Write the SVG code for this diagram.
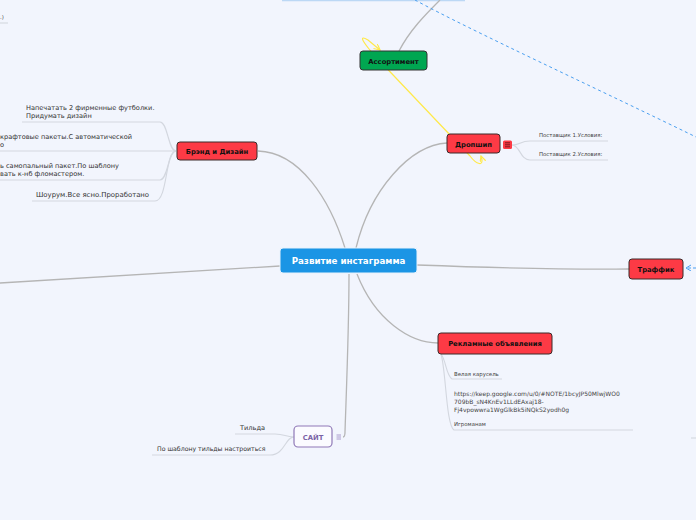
<svg xmlns="http://www.w3.org/2000/svg" width="696" height="520" viewBox="0 0 696 520">
<defs>
<marker id="ya" markerWidth="8" markerHeight="8" refX="6" refY="3" orient="auto-start-reverse" markerUnits="userSpaceOnUse"><path d="M0,0 L6,3 L0,6" fill="none" stroke="#ffe94a" stroke-width="1.2"/></marker>
<marker id="ba" markerWidth="8" markerHeight="8" refX="5" refY="3" orient="auto" markerUnits="userSpaceOnUse"><path d="M0,0 L5,3 L0,6" fill="none" stroke="#4a9ff0" stroke-width="1"/></marker>
</defs>
<style>
.main{fill:none;stroke:#b5b5b5;stroke-width:1.3}
.sub{fill:none;stroke:#d3d7df;stroke-width:1.1}
.red{fill:#fd3a45;stroke:#3a2a2a;stroke-width:1}
.lbl{font-family:"DejaVu Sans",Verdana,sans-serif;font-weight:bold;fill:#111;font-size:6.8px;text-anchor:middle}
.t{font-family:"DejaVu Sans",Verdana,sans-serif;fill:#333;font-size:6.6px}
.s{font-family:"DejaVu Sans",Verdana,sans-serif;fill:#444;font-size:5.4px}
.u{font-family:"DejaVu Sans",Verdana,sans-serif;fill:#444;font-size:6px}
</style>
<rect width="696" height="520" fill="#f2f5fd"/>
<line x1="282" y1="0" x2="465" y2="0" stroke="#bcd8f5" stroke-width="2.5"/>
<g id="connectors">
<path class="main" d="M345 248 C330 200,300 152,258 151"/>
<path class="main" d="M356 248 C370 190,410 145,447 143"/>
<path class="main" d="M417 265 C500 268,560 270,629 269"/>
<path class="main" d="M357 274 C375 320,410 343,438 343"/>
<path class="main" d="M349 274 C349 330,346 400,345 432 Q345 437 343 437"/>
<path class="main" d="M280 266 L0 283"/>
<path class="main" d="M399 51 C410 30,425 15,440 0"/>
<path class="sub" d="M176 151 C168 151,168 122,160 122 L22 122"/>
<path class="sub" d="M176 151 L0 151"/>
<path class="sub" d="M176 151 C168 151,168 180,160 180 L0 180"/>
<path class="sub" d="M176 151 C165 151,168 201,155 201 L32 201"/>
<path class="sub" d="M512 145 C520 145,520 141,530 141 L608 141"/>
<path class="sub" d="M512 145 C520 145,520 160,530 160 L608 160"/>
<path class="sub" d="M441 354 C446 360,446 375,452 379 L502 379"/>
<path class="sub" d="M441 354 C446 370,446 425,454 430 L633 430"/>
<path class="sub" d="M294 437 C285 437,285 434,275 434 L235 434"/>
<path class="sub" d="M294 437 C285 437,285 455,270 455 L152 455"/>
<path class="sub" d="M0 23 L8 23"/>
<path class="sub" d="M691 438 L696 438"/>
<path d="M415 0 C470 30,600 90,696 137" fill="none" stroke="#4a9ff0" stroke-width="1" stroke-dasharray="3,3"/>
<path d="M696 268 L686 268" fill="none" stroke="#4a9ff0" stroke-width="1" stroke-dasharray="3,2" marker-end="url(#ba)"/>
<path d="M481 156 C485 168,476 164,470 156 L376 57 C366 46,356 33,368 40 L380 50" fill="none" stroke="#ffe94a" stroke-width="1.2" marker-start="url(#ya)" marker-end="url(#ya)"/>
</g>
<g id="center">
<rect x="280" y="248" width="137" height="25" rx="3" fill="#1b95e5" stroke="#e8f2fc" stroke-width="1"/>
<text x="348.5" y="264" font-family="DejaVu Sans, Verdana, sans-serif" font-weight="bold" font-size="8.7" fill="#fff" text-anchor="middle">Развитие инстаграмма</text>
</g>
<g id="assortment">
<rect x="360" y="51" width="67" height="19" rx="3" fill="#00a651" stroke="#333" stroke-width="1"/>
<text class="lbl" x="393.5" y="63.5">Ассортимент</text>
</g>
<g id="brand">
<rect class="red" x="177" y="142" width="80" height="18" rx="3"/>
<text class="lbl" x="217" y="153.8">Брэнд и Дизайн</text>
</g>
<g id="brand-items">
<text class="t" x="26" y="110">Напечатать 2 фирменные футболки.</text>
<text class="t" x="26" y="118">Придумать дизайн</text>
<text class="t" x="0" y="139">крафтовые пакеты.С автоматической</text>
<text class="t" x="0" y="147">о</text>
<text class="t" x="0" y="168">ь самопальный пакет.По шаблону</text>
<text class="t" x="0" y="176">вать к-нб фломастером.</text>
<text class="t" x="36" y="197" style="font-size:6.9px">Шоурум.Все ясно.Проработано</text>
<text class="s" x="0" y="19">.)</text>
</g>
<g id="dropship">
<rect class="red" x="447" y="134" width="53" height="19" rx="3"/>
<text class="lbl" x="473.5" y="146.5">Дропшип</text>
<rect x="503" y="140.5" width="9" height="8.5" rx="1.5" fill="#fd3a45"/>
<path d="M505 142.8 H510 M505 144.8 H510 M505 146.8 H510" stroke="#5a1015" stroke-width="0.8"/>
</g>
<g id="dropship-items">
<text class="s" x="539" y="137">Поставщик 1.Условия:</text>
<text class="s" x="539" y="156">Поставщик 2.Условия:</text>
</g>
<g id="traffic">
<rect class="red" x="629" y="259" width="54" height="20" rx="3"/>
<text class="lbl" x="656" y="271.5">Траффик</text>
</g>
<g id="ads">
<rect class="red" x="438" y="333" width="114" height="21" rx="3"/>
<text class="lbl" x="495" y="346">Рекламные объявления</text>
</g>
<g id="ads-items">
<text class="s" x="454" y="376">Велая карусель</text>
<text class="u" x="454" y="396">https://keep.google.com/u/0/#NOTE/1bcyJP50MlwjWO0</text>
<text class="u" x="454" y="404">709bB_sN4KnEv1LLdEAxaj18-</text>
<text class="u" x="454" y="411.5">Fj4vpowwra1WgGlkBk5iNQkS2yodh0g</text>
<text class="s" x="454" y="426">Игроманам</text>
</g>
<g id="site">
<rect x="294" y="426" width="38" height="21" rx="4" fill="#fbfbff" stroke="#8f79b7" stroke-width="1.2"/>
<text x="313" y="439.5" font-family="DejaVu Sans, Verdana, sans-serif" font-weight="bold" font-size="6.8" fill="#7a62a6" text-anchor="middle">САЙТ</text>
<path d="M336.5 435 H341 M336.5 437 H341 M336.5 439 H341" stroke="#9a86c0" stroke-width="0.8"/>
</g>
<g id="site-items">
<text class="t" x="240" y="430">Тильда</text>
<text class="t" x="157" y="451" style="font-size:6.2px">По шаблону тильды настроиться</text>
</g>
</svg>
